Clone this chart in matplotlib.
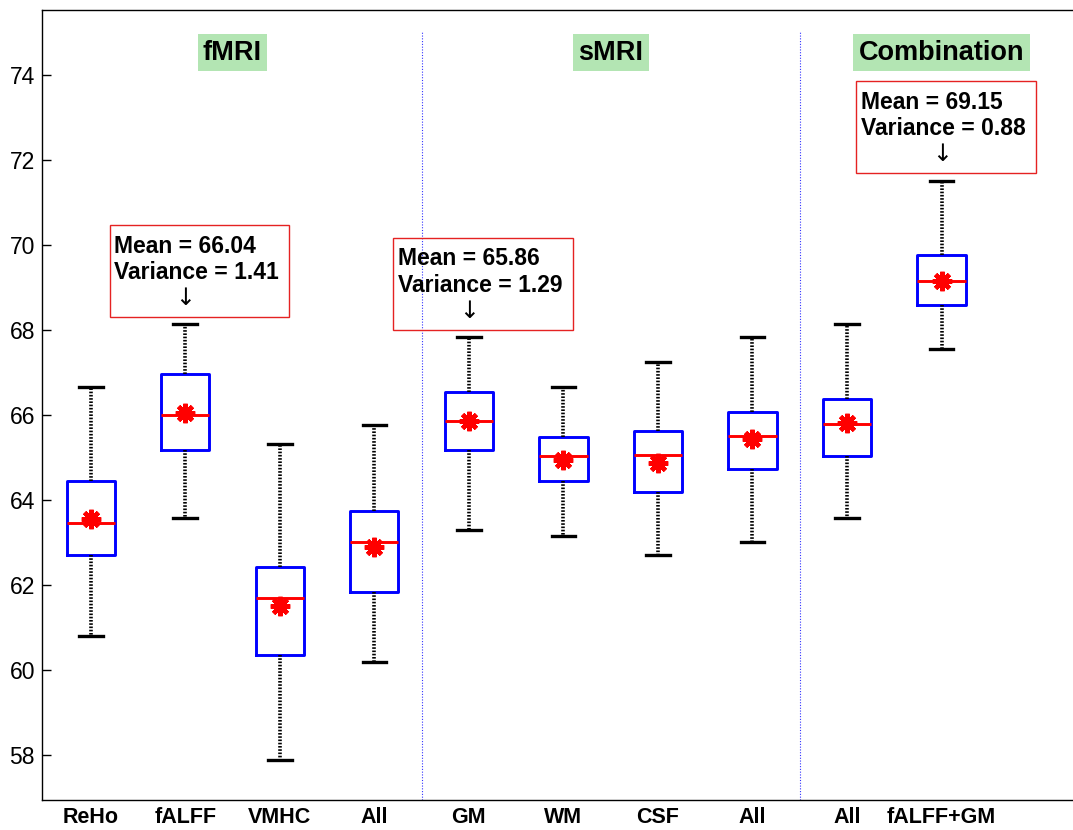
import matplotlib
matplotlib.use("Agg")
import matplotlib.pyplot as plt
from matplotlib.patches import Rectangle

plt.rcParams['font.family'] = ['Liberation Sans', 'DejaVu Sans']

# accuracy (%) per feature set
labels = ["ReHo", "fALFF", "VMHC", "All", "GM", "WM", "CSF", "All", "All", "fALFF+GM"]
whis_lo = [60.80, 63.59, 57.88, 60.20, 63.30, 63.16, 62.72, 63.01, 63.59, 67.54]
q1 = [62.71, 65.18, 60.36, 61.83, 65.18, 64.45, 64.19, 64.74, 65.04, 68.58]
median = [63.45, 65.99, 61.69, 63.01, 65.85, 65.04, 65.05, 65.50, 65.78, 69.16]
q3 = [64.45, 66.96, 62.42, 63.75, 66.53, 65.49, 65.62, 66.06, 66.37, 69.75]
whis_hi = [66.66, 68.13, 65.33, 65.77, 67.83, 66.66, 67.25, 67.83, 68.13, 71.51]
means = [63.55, 66.04, 61.52, 62.89, 65.86, 64.95, 64.88, 65.43, 65.82, 69.15]

groups = ["fMRI", "sMRI", "Combination"]
group_x = [2.5, 6.5, 10.0]
dividers = [4.5, 8.5]

# best result of each group
best_idx = [1, 4, 9]
best_var = [1.41, 1.29, 0.88]
note_left = [-0.80, -0.80, -0.90]

positions = list(range(1, len(labels) + 1))
stats = []
for i in range(len(labels)):
    stats.append(dict(label=labels[i], whislo=whis_lo[i], q1=q1[i], med=median[i],
                      q3=q3[i], whishi=whis_hi[i], mean=means[i], fliers=[]))

fig = plt.figure(figsize=(10.73, 8.30), dpi=100)
ax = fig.add_axes([42 / 1073, 30 / 830, 1031 / 1073, 790 / 830])

ax.bxp(stats, positions=positions, widths=0.51, capwidths=0.25, showmeans=True,
       boxprops=dict(color='#0000ff', linewidth=2.1),
       medianprops=dict(color='red', linewidth=2.1),
       whiskerprops=dict(color='black', linewidth=2.6, linestyle=(0, (0.45, 0.45))),
       capprops=dict(color='black', linewidth=2.4),
       meanprops=dict(marker=(8, 2, 0), markersize=14, markeredgewidth=3.2,
                      markeredgecolor='red', markerfacecolor='red', linestyle='none'))

for d in dividers:
    ax.axvline(d, ymin=0, ymax=0.973, color='#3333ff', linewidth=0.8, linestyle=(0, (1, 1.5)))

for g, gx in zip(groups, group_x):
    ax.text(gx, 74.52, g, ha='center', va='center', fontsize=19.5, fontweight='bold',
            bbox=dict(boxstyle='square,pad=0.2', facecolor='#b3e5b3', edgecolor='none'))

for k, i in enumerate(best_idx):
    x = positions[i]
    bottom = whis_hi[i] + 0.17
    left = x + note_left[k]
    ax.add_patch(Rectangle((left, bottom), 1.90, 2.16, fill=False,
                           edgecolor='#e52222', linewidth=1.0, zorder=3))
    ax.text(left + 0.05, bottom + 2.16 - 0.22,
            f"Mean = {means[i]:.2f}\nVariance = {best_var[k]:.2f}",
            ha='left', va='top', fontsize=16.5, fontweight='bold', linespacing=1.2)
    ax.text(x, bottom + 0.45, "\u2193", ha='center', va='center', fontsize=17,
            family=['DejaVu Sans'])

ax.set_xlim(0.485, 11.39)
ax.set_ylim(56.95, 75.52)
ax.set_yticks([58, 60, 62, 64, 66, 68, 70, 72, 74])
ax.tick_params(axis='y', direction='in', length=6.5, width=1, labelsize=16.5, pad=5)
ax.tick_params(axis='x', length=0, labelsize=15.5, pad=5)
for t in ax.get_xticklabels():
    t.set_fontweight('bold')

ax.spines['right'].set_visible(False)
for s in ['left', 'bottom', 'top']:
    ax.spines[s].set_linewidth(1.0)

fig.savefig("out.png", dpi=100)
